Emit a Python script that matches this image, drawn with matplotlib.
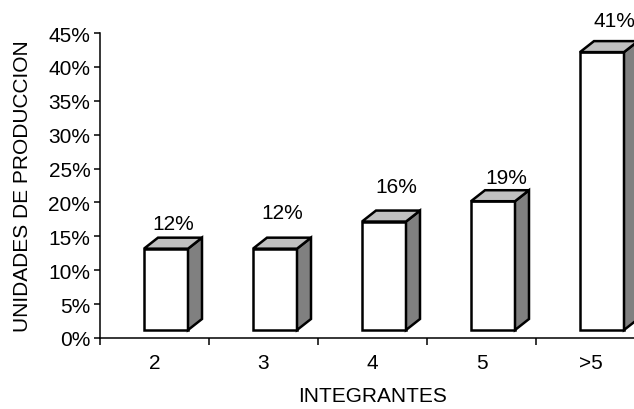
import matplotlib.pyplot as plt
from matplotlib.patches import Polygon
from matplotlib.ticker import FuncFormatter

plt.rcParams['font.family'] = ['Liberation Sans', 'DejaVu Sans']

categories = ["2", "3", "4", "5", ">5"]
values = [12, 12, 16, 19, 41]
labels = ["12%", "12%", "16%", "19%", "41%"]

# label lift above the bar top (pixels), as placed in the original
label_lift = [14, 25, 24, 13, 21]
label_shift = [7, 7, 12, 13, 12]

fig = plt.figure(figsize=(6.34, 4.10), dpi=100)
ax = fig.add_axes([100 / 634, 1 - 339 / 410, 545 / 634, 305 / 410])

ax.set_xlim(-0.5, len(categories) - 0.5)
ax.set_ylim(0, 45)

# pixel -> data scales
px_x = 1 / 109.0
px_y = 45 / 305.0

floor = 8 * px_y
dx = 14 * px_x
dy = 11 * px_y
width = 44 * px_x
lw = 1.8

for i, v in enumerate(values):
    x0 = i - 10.5 * px_x
    x1 = x0 + width
    y0 = floor
    y1 = floor + v
    front = Polygon([(x0, y0), (x1, y0), (x1, y1), (x0, y1)],
                    closed=True, facecolor="white", edgecolor="black",
                    linewidth=lw, clip_on=False, zorder=3)
    side = Polygon([(x1, y0), (x1 + dx, y0 + dy), (x1 + dx, y1 + dy), (x1, y1)],
                   closed=True, facecolor="#808080", edgecolor="black",
                   linewidth=lw, clip_on=False, zorder=3)
    top = Polygon([(x0, y1), (x1, y1), (x1 + dx, y1 + dy), (x0 + dx, y1 + dy)],
                  closed=True, facecolor="#c0c0c0", edgecolor="black",
                  linewidth=lw, clip_on=False, zorder=3)
    ax.add_patch(front)
    ax.add_patch(side)
    ax.add_patch(top)
    ax.text((x0 + x1) / 2 + label_shift[i] * px_x, y1 + dy + label_lift[i] * px_y,
            labels[i], ha="center", va="center", fontsize=15, clip_on=False)

ax.set_yticks(range(0, 50, 5))
ax.yaxis.set_major_formatter(FuncFormatter(lambda v, p: "%d%%" % v))
ax.set_xticks([i + 0.5 for i in range(-1, len(categories))])
ax.set_xticklabels([])
ax.set_xticks(range(len(categories)), minor=True)
ax.set_xticklabels(categories, minor=True)
ax.tick_params(axis="x", which="minor", length=0, pad=11, labelsize=15)
ax.tick_params(axis="x", which="major", length=5, width=1.1)
ax.tick_params(axis="y", length=4, width=1.1, pad=3, labelsize=15)

for s in ["top", "right"]:
    ax.spines[s].set_visible(False)
for s in ["left", "bottom"]:
    ax.spines[s].set_linewidth(1.1)

ax.set_xlabel("INTEGRANTES", fontsize=15, labelpad=10)
ax.set_ylabel("UNIDADES DE PRODUCCION", fontsize=15, labelpad=12)

fig.savefig("out.png", dpi=100)
